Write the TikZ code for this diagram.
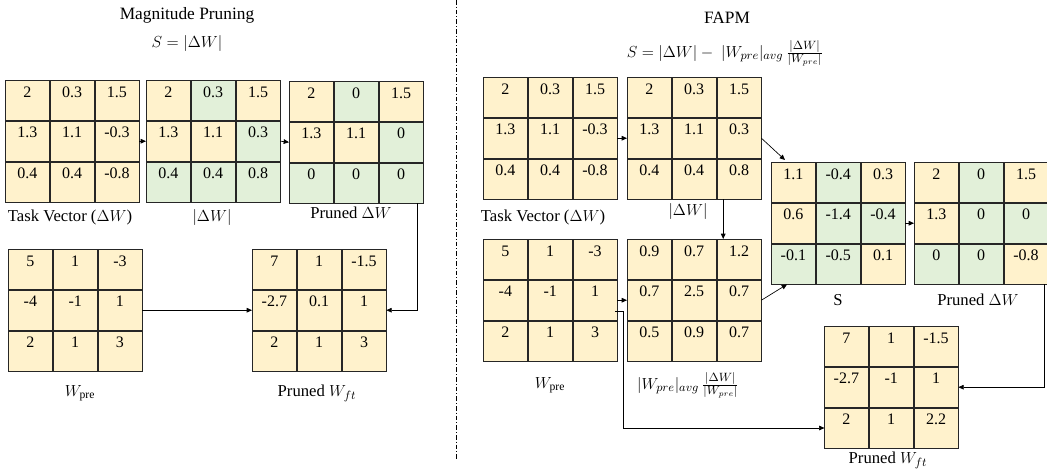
\documentclass[tikz,border=0pt]{standalone}
\usepackage{fontspec}
\setmainfont{Liberation Serif}
\usetikzlibrary{matrix,arrows.meta,calc}

\definecolor{cream}{HTML}{FFF2CC}
\definecolor{leaf}{HTML}{E2F0D9}

\tikzset{
  cell/.style={draw=black!85, line width=0.6pt, fill=cream,
    minimum width=33pt, inner sep=0pt, outer sep=0pt,
    text height=12.5pt, text depth=17.5pt, anchor=center,
    font=\fontsize{12}{14}\selectfont},
  gc/.style={fill=leaf},
  grid/.style={matrix of nodes, nodes={cell}, column sep=0pt, row sep=0pt,
    inner sep=0pt, outer sep=0pt, anchor=north west},
  lbl/.style={font=\fontsize{12.5}{14}\selectfont, inner sep=0pt},
  ttl/.style={font=\fontsize{13}{15}\selectfont, inner sep=0pt},
  arr/.style={-{Triangle[length=4pt,width=3.5pt]}, line width=0.5pt},
  divider/.style={line width=0.6pt,
    dash pattern=on 3.5pt off 1.5pt on 0.75pt off 1.5pt},
}

\begin{document}
\begin{tikzpicture}[x=0.75pt, y=-0.75pt]
\useasboundingbox (0,0) rectangle (1047,472);

% ---------------- Magnitude pruning ----------------
\node[ttl] (titleL) at (187,15) {Magnitude Pruning};
\node[ttl] (formL) at (187,43) {$S = |\Delta W|$};

\matrix (tvL) [grid] at (5,80) {
  2 & 0.3 & 1.5 \\
  1.3 & 1.1 & -0.3 \\
  0.4 & 0.4 & -0.8 \\
};
\matrix (absL) [grid] at (146,80) {
  2 & |[gc]| 0.3 & 1.5 \\
  1.3 & 1.1 & |[gc]| 0.3 \\
  |[gc]| 0.4 & |[gc]| 0.4 & |[gc]| 0.8 \\
};
\matrix (prL) [grid] at (289,81) {
  2 & |[gc]| 0 & 1.5 \\
  1.3 & 1.1 & |[gc]| 0 \\
  |[gc]| 0 & |[gc]| 0 & |[gc]| 0 \\
};
\matrix (wpL) [grid] at (8,249) {
  5 & 1 & -3 \\
  -4 & -1 & 1 \\
  2 & 1 & 3 \\
};
\matrix (wftL) [grid] at (252,249) {
  7 & 1 & -1.5 \\
  -2.7 & 0.1 & 1 \\
  2 & 1 & 3 \\
};

\node[lbl] (tvLlab) at (70,217) {Task Vector ($\Delta W$)};
\node[lbl] (absLlab) at (212,217) {$|\Delta W|$};
\node[lbl] (prLlab) at (351,213) {Pruned $\Delta W$};
\node[lbl] (wpLlab) at (80,393) {$W_{\mathrm{pre}}$};
\node[lbl] (wftLlab) at (317,393) {Pruned $W_{ft}$};

\draw[arr] (tvL.east) -- (absL.west);
\draw[arr] (absL.east) -- (prL.west);
\draw[arr] ($(prL.south east)+(-6,0)$) |- (wftL.east);
\draw[arr] (wpL.east) -- (wftL.west);

% ---------------- Separator ----------------
\coordinate (sepTop) at (456,0);
\coordinate (sepBot) at (456,460);
\draw[divider] (sepTop) -- (sepBot);

% ---------------- FAPM ----------------
\node[ttl] (titleR) at (727,18) {FAPM};
\node[ttl] (formR) at (725,53)
  {$S = |\Delta W| -\ |W_{pre}|_{avg}\,\frac{|\Delta W|}{|W_{pre}|}$};

\matrix (tvR) [grid] at (483,77) {
  2 & 0.3 & 1.5 \\
  1.3 & 1.1 & -0.3 \\
  0.4 & 0.4 & -0.8 \\
};
\matrix (absR) [grid] at (627,77) {
  2 & 0.3 & 1.5 \\
  1.3 & 1.1 & 0.3 \\
  0.4 & 0.4 & 0.8 \\
};
\matrix (sR) [grid] at (771,162) {
  1.1 & |[gc]| -0.4 & 0.3 \\
  0.6 & |[gc]| -1.4 & |[gc]| -0.4 \\
  |[gc]| -0.1 & |[gc]| -0.5 & 0.1 \\
};
\matrix (prR) [grid] at (914,162) {
  2 & |[gc]| 0 & 1.5 \\
  1.3 & |[gc]| 0 & |[gc]| 0 \\
  |[gc]| 0 & |[gc]| 0 & -0.8 \\
};
\matrix (wpR) [grid] at (483,239) {
  5 & 1 & -3 \\
  -4 & -1 & 1 \\
  2 & 1 & 3 \\
};
\matrix (avgR) [grid] at (627,239) {
  0.9 & 0.7 & 1.2 \\
  0.7 & 2.5 & 0.7 \\
  0.5 & 0.9 & 0.7 \\
};
\matrix (wftR) [grid] at (824,326) {
  7 & 1 & -1.5 \\
  -2.7 & -1 & 1 \\
  2 & 1 & 2.2 \\
};

\node[lbl] (tvRlab) at (543,217) {Task Vector ($\Delta W$)};
\node[lbl] (absRlab) at (688,211) {$|\Delta W|$};
\node[lbl] (sRlab) at (838,300) {S};
\node[lbl] (prRlab) at (978,300) {Pruned $\Delta W$};
\node[lbl] (wpRlab) at (550,385) {$W_{\mathrm{pre}}$};
\node[lbl] (avgRlab) at (688,385)
  {$|W_{pre}|_{avg}\,\frac{|\Delta W|}{|W_{pre}|}$};
\node[lbl] (wftRlab) at (888,460) {Pruned $W_{ft}$};

\draw[arr] (tvR.east) -- (absR.west);
\draw[arr] (absR.east) -- ($(sR.north west)+(14,-2)$);
\draw[arr] ($(absR.south)+(29,0)$) -- ($(avgR.north)+(29,0)$);
\draw[arr] (avgR.east) -- ($(sR.south west)+(16,0)$);
\draw[arr] (sR.east) -- (prR.west);
\draw[arr] (wpR.east) -- (avgR.west);
\draw[arr] ($(wpR.east)+(-2,11)$) -- ++(8,0) |- (wftR-3-1.west);
\draw[arr] ($(prR.south east)+(-4,0)$) |- (wftR.east);

\end{tikzpicture}
\end{document}
